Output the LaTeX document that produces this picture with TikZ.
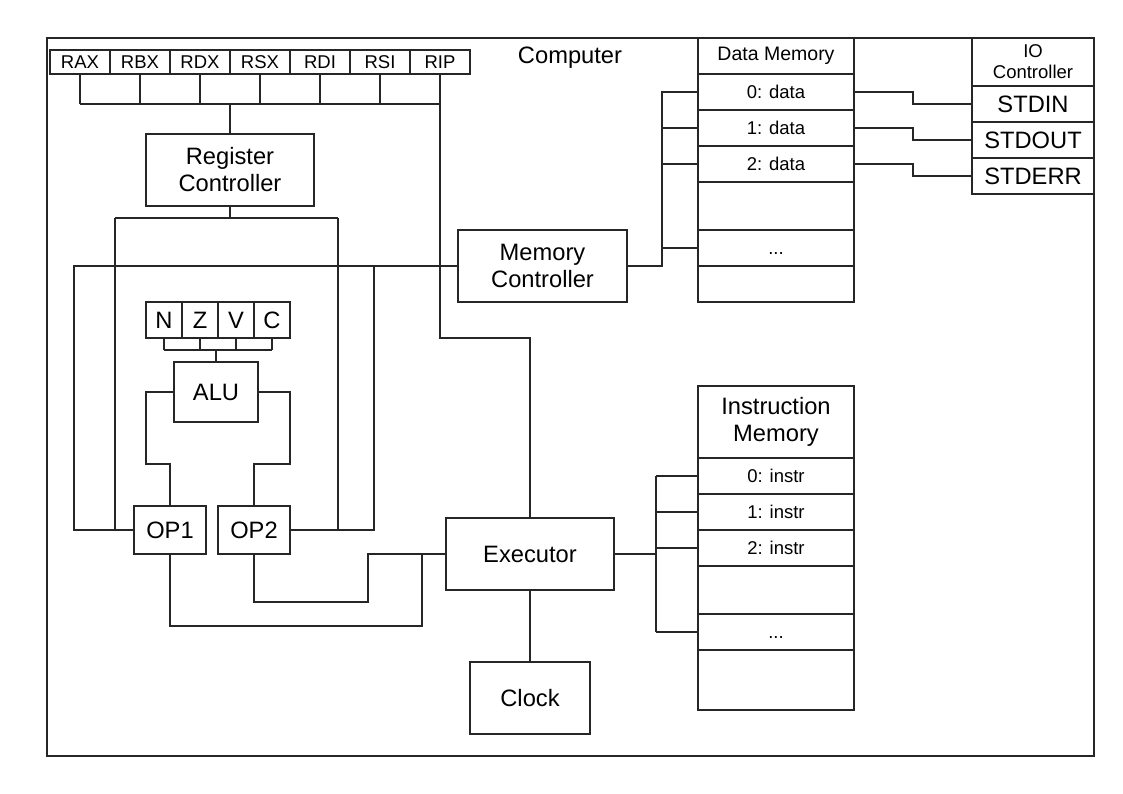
\documentclass[tikz,border=0pt]{standalone}
\usepackage{fontspec}
\setmainfont{Liberation Sans}
\newcommand\bigf{\fontsize{23.7}{27}\selectfont}
\newcommand\smf{\fontsize{18.5}{21}\selectfont}
\begin{document}
\begin{tikzpicture}[x=1pt,y=-1pt, line width=1.1pt, draw=black!85,
  box/.style={draw, inner sep=0pt, align=center},
  big/.style={font=\bigf},
  sm/.style={font=\smf},
  bus/.style={line width=2pt}]
\useasboundingbox (0,0) rectangle (1123,794);
% frame
\node[box, minimum width=1047pt, minimum height=718pt] (frame) at (570.5,397) {};
\node[big] (title) at (570,58) {Computer};
% registers
\foreach \n/\t [count=\i] in {rax/RAX,rbx/RBX,rdx/RDX,rsx/RSX,rdi/RDI,rsi/RSI,rip/RIP}
  \node[box, sm, minimum width=60pt, minimum height=24pt] (\n) at (20+60*\i,62) {\t};
\node[box, big, minimum width=168pt, minimum height=72pt] (rc) at (230,170) {Register\\Controller};
% flags and ALU
\foreach \n/\t [count=\i] in {fn/N,fz/Z,fv/V,fc/C}
  \node[box, big, minimum width=36pt, minimum height=36pt] (\n) at (128+36*\i,320) {\t};
\node[box, big, minimum width=84pt, minimum height=60pt] (alu) at (216,392) {ALU};
\node[box, big, minimum width=72pt, minimum height=48pt] (op1) at (170,530) {OP1};
\node[box, big, minimum width=72pt, minimum height=48pt] (op2) at (254,530) {OP2};
% controllers
\node[box, big, minimum width=169pt, minimum height=72pt] (mc) at (542.5,266) {Memory\\Controller};
\node[box, big, minimum width=168pt, minimum height=72pt] (exec) at (530,554) {Executor};
\node[box, big, minimum width=120pt, minimum height=72pt] (clock) at (530,698) {Clock};
% data memory
\node[box, sm, font=\fontsize{19.5}{22}\selectfont, minimum width=156pt, minimum height=36pt] (dmh) at (776,56) {Data Memory};
\node[box, sm, minimum width=156pt, minimum height=36pt] (dm0) at (776,92) {0: data};
\node[box, sm, minimum width=156pt, minimum height=36pt] (dm1) at (776,128) {1: data};
\node[box, sm, minimum width=156pt, minimum height=36pt] (dm2) at (776,164) {2: data};
\node[box, sm, minimum width=156pt, minimum height=48pt] (dme1) at (776,206) {};
\node[box, sm, minimum width=156pt, minimum height=36pt] (dmd) at (776,248) {\vphantom{0}...};
\node[box, sm, minimum width=156pt, minimum height=36pt] (dme2) at (776,284) {};
% IO controller
\node[box, sm, minimum width=122pt, minimum height=48pt] (ioh) at (1033,62) {IO\\Controller};
\node[box, big, minimum width=122pt, minimum height=36pt] (stdin) at (1033,104) {STDIN};
\node[box, big, minimum width=122pt, minimum height=36pt] (stdout) at (1033,140) {STDOUT};
\node[box, big, minimum width=122pt, minimum height=36pt] (stderr) at (1033,176) {STDERR};
% instruction memory
\node[box, big, minimum width=156pt, minimum height=72pt] (imh) at (776,422) {Instruction\\Memory};
\node[box, sm, minimum width=156pt, minimum height=36pt] (im0) at (776,476) {0: instr};
\node[box, sm, minimum width=156pt, minimum height=36pt] (im1) at (776,512) {1: instr};
\node[box, sm, minimum width=156pt, minimum height=36pt] (im2) at (776,548) {2: instr};
\node[box, sm, minimum width=156pt, minimum height=48pt] (ime1) at (776,590) {};
\node[box, sm, minimum width=156pt, minimum height=36pt] (imd) at (776,632) {\vphantom{0}...};
\node[box, sm, minimum width=156pt, minimum height=60pt] (ime2) at (776,680) {};
% junction coordinates
\coordinate (busL) at (80,104);
\coordinate (busR) at (440,104);
\coordinate (ripk) at (440,338);
\coordinate (rcb) at (230,218);
\coordinate (rcl) at (115,218);
\coordinate (rcr) at (338,218);
\coordinate (mcl) at (74,266);
\coordinate (mcr) at (374,266);
\coordinate (fbus) at (216,350);
\coordinate (dmj) at (662,266);
\coordinate (imj) at (656,554);
% register bus
\foreach \n in {rax,rbx,rdx,rsx,rdi,rsi}
  \draw (\n.south) -- (\n.south |- busL);
\draw (busL) -- (busR);
\draw[bus] (rc.north) -- (rc.north |- busL);
\draw (rip.south) -- (ripk) -| (exec.north);
% register controller to operands
\draw (rc.south) -- (rcb);
\draw (rcl) -- (rcr);
\draw (rcl) -- (rcl |- op1.west);
\draw (rcr) -- (rcr |- op2.east);
% memory controller to operands
\draw (mc.west) -- (mcl) |- (op1.west);
\draw (op2.east) -| (mcr);
% flags
\foreach \n in {fn,fz,fv,fc}
  \draw (\n.south) -- (\n.south |- fbus);
\draw (fn.south |- fbus) -- (fc.south |- fbus);
\draw[bus] (alu.north) -- (fbus);
% ALU to operands
\draw (alu.west) -- (146,392) -- (146,464) -| (op1.north);
\draw (alu.east) -- (290,392) -- (290,464) -| (op2.north);
% operands to executor
\draw (op1.south) |- (422,626) |- (exec.west);
\draw (op2.south) |- (368,602) |- (exec.west);
\draw (exec.south) -- (clock.north);
% memory controller to data memory
\draw[bus] (mc.east) -- (dmj) -- (dmj |- dmd.west);
\draw (dmj) -- (dmj |- dm0.west) -- (dm0.west);
\draw (dmj |- dm1.west) -- (dm1.west);
\draw (dmj |- dm2.west) -- (dm2.west);
\draw (dmj |- dmd.west) -- (dmd.west);
% data memory to IO
\draw (dm0.east) -- (913,92) |- (stdin.west);
\draw (dm1.east) -- (913,128) |- (stdout.west);
\draw (dm2.east) -- (913,164) |- (stderr.west);
% executor to instruction memory
\draw[bus] (exec.east) -- (imj);
\draw (imj |- im0.west) -- (imj |- imd.west);
\draw (imj |- im0.west) -- (im0.west);
\draw (imj |- im1.west) -- (im1.west);
\draw (imj |- im2.west) -- (im2.west);
\draw (imj |- imd.west) -- (imd.west);
\end{tikzpicture}
\end{document}
